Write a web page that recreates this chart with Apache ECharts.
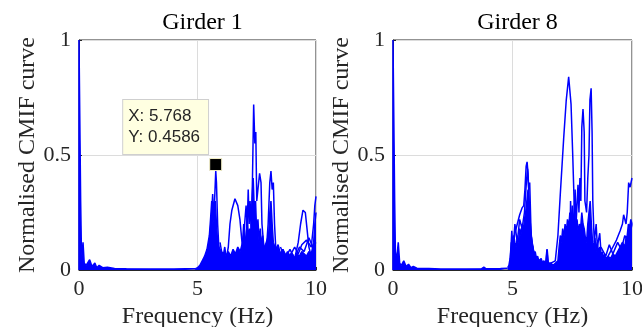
<!DOCTYPE html>
<html>
<head>
<meta charset="utf-8">
<script src="https://cdn.jsdelivr.net/npm/echarts@6/dist/echarts.min.js"></script>
<style>
  html, body { margin: 0; padding: 0; background: #fff; }
  #chart { width: 642px; height: 327px; }
</style>
</head>
<body>
<div id="chart"></div>
<script>
// tick labels
const xTicks = [0, 5, 10]
const yTicks = [0, 0.5, 1]
const titles = ['Girder 1', 'Girder 8']

// ---- Girder 1 ----
const g1Low = [[0, 0], [0, 1], [0.05, 1], [0.07, 0.3], [0.1, 0.1], [0.13, 0.06], [0.17, 0.12], [0.22, 0.03], [0.3, 0.02], [0.45, 0.045], [0.55, 0.015], [0.67, 0.03], [0.75, 0.01], [0.85, 0.02], [1.0, 0.01], [1.2, 0.012], [1.5, 0.007], [2, 0.005], [3, 0.004], [4, 0.004], [4.5, 0.005], [4.9, 0.005]]
const g1Dense = [[4.9, 0.005], [5.0, 0.01], [5.1, 0.02], [5.2, 0.04], [5.3, 0.06], [5.4, 0.09], [5.5, 0.15], [5.55, 0.22], [5.6, 0.3], [5.65, 0.2], [5.7, 0.26], [5.75, 0.3], [5.8, 0.2], [5.85, 0.12], [5.9, 0.1], [6.0, 0.08], [6.1, 0.07], [6.15, 0.1], [6.2, 0.06], [6.3, 0.08], [6.4, 0.06], [6.5, 0.09], [6.6, 0.07], [6.7, 0.1], [6.8, 0.08], [6.9, 0.12], [6.95, 0.2], [7.0, 0.1], [7.05, 0.15], [7.1, 0.25], [7.15, 0.12], [7.2, 0.18], [7.25, 0.13], [7.3, 0.3], [7.35, 0.4], [7.4, 0.25], [7.45, 0.3], [7.5, 0.15], [7.55, 0.22], [7.6, 0.12], [7.65, 0.18], [7.7, 0.1], [7.75, 0.15], [7.8, 0.09], [7.9, 0.12], [8.0, 0.15], [8.05, 0.25], [8.1, 0.3], [8.15, 0.2], [8.2, 0.12], [8.3, 0.09], [8.4, 0.11], [8.5, 0.07], [8.6, 0.09], [8.7, 0.06], [8.8, 0.08], [8.9, 0.06], [9.0, 0.07], [9.1, 0.05], [9.2, 0.07], [9.3, 0.06], [9.4, 0.08], [9.5, 0.07], [9.6, 0.06], [9.7, 0.08], [9.8, 0.07], [9.9, 0.12], [9.95, 0.2], [10, 0.25]]
const g1PeakA = [[5.4, 0.05], [5.5, 0.12], [5.6, 0.25], [5.64, 0.33], [5.68, 0.22], [5.72, 0.3], [5.77, 0.43], [5.8, 0.38], [5.85, 0.2], [5.9, 0.1], [6.0, 0.04], [6.1, 0.02]]
const g1Hump = [[6.0, 0.02], [6.2, 0.04], [6.3, 0.1], [6.37, 0.2], [6.45, 0.26], [6.58, 0.31], [6.7, 0.28], [6.79, 0.22], [6.86, 0.14], [6.93, 0.07], [7.0, 0.03], [7.1, 0.02]]
const g1U = [[5.95, 0.12], [6.05, 0.06], [6.15, 0.02], [6.3, 0.01], [6.45, 0.03], [6.6, 0.03], [6.75, 0.02], [6.85, 0.05], [6.95, 0.15], [7.05, 0.28], [7.1, 0.2]]
const g1Main = [[7.0, 0.1], [7.1, 0.2], [7.14, 0.35], [7.18, 0.2], [7.22, 0.3], [7.27, 0.15], [7.32, 0.4], [7.37, 0.72], [7.42, 0.55], [7.46, 0.6], [7.5, 0.3], [7.55, 0.35], [7.62, 0.42], [7.68, 0.38], [7.72, 0.2], [7.8, 0.1], [7.9, 0.06]]
const g1P8 = [[7.9, 0.08], [7.98, 0.2], [8.05, 0.38], [8.1, 0.43], [8.15, 0.35], [8.2, 0.38], [8.25, 0.2], [8.3, 0.1], [8.4, 0.06]]
const g1Wavy = [[8.4, 0.05], [8.6, 0.09], [8.8, 0.05], [9.0, 0.08], [9.1, 0.1], [9.25, 0.07], [9.4, 0.11], [9.6, 0.13], [9.8, 0.1], [10, 0.12]]
const g1Wavy2 = [[8.5, 0.1], [8.7, 0.05], [8.9, 0.09], [9.1, 0.05], [9.3, 0.1], [9.5, 0.08], [9.7, 0.14], [9.9, 0.09]]
const g1Hump9 = [[9.1, 0.05], [9.25, 0.12], [9.35, 0.2], [9.45, 0.26], [9.55, 0.25], [9.62, 0.18], [9.7, 0.1], [9.8, 0.06]]
const g1Edge = [[9.8, 0.1], [9.9, 0.2], [9.95, 0.28], [10, 0.32]]
const g1Tip = [5.768, 0.4586]

// ---- Girder 8 ----
const g8Low = [[0, 0], [0, 1], [0.04, 1], [0.07, 0.3], [0.1, 0.08], [0.15, 0.04], [0.22, 0.12], [0.28, 0.03], [0.35, 0.02], [0.45, 0.04], [0.55, 0.015], [0.65, 0.025], [0.75, 0.01], [0.85, 0.015], [1.0, 0.008], [1.5, 0.006], [2, 0.004], [3, 0.004], [3.7, 0.005], [3.8, 0.012], [3.9, 0.005], [4.5, 0.006], [4.8, 0.008]]
const g8Dense = [[4.8, 0.01], [4.85, 0.02], [4.9, 0.05], [4.95, 0.12], [5.0, 0.1], [5.05, 0.15], [5.1, 0.12], [5.15, 0.1], [5.2, 0.14], [5.25, 0.12], [5.3, 0.18], [5.35, 0.15], [5.4, 0.2], [5.45, 0.17], [5.5, 0.22], [5.55, 0.25], [5.6, 0.3], [5.65, 0.35], [5.7, 0.25], [5.75, 0.2], [5.8, 0.12], [5.85, 0.1], [5.9, 0.07], [5.95, 0.08], [6.0, 0.05], [6.05, 0.06], [6.1, 0.04], [6.2, 0.05], [6.25, 0.03], [6.3, 0.04], [6.4, 0.03], [6.45, 0.09], [6.5, 0.03], [6.6, 0.03], [6.7, 0.02], [6.8, 0.03], [6.9, 0.04], [6.95, 0.1], [7.0, 0.15], [7.05, 0.12], [7.1, 0.18], [7.15, 0.14], [7.2, 0.2], [7.25, 0.16], [7.3, 0.22], [7.35, 0.18], [7.4, 0.25], [7.45, 0.2], [7.5, 0.28], [7.55, 0.2], [7.6, 0.25], [7.65, 0.18], [7.7, 0.22], [7.75, 0.16], [7.8, 0.2], [7.85, 0.18], [7.9, 0.25], [7.95, 0.2], [8.0, 0.18], [8.05, 0.14], [8.1, 0.12], [8.15, 0.2], [8.2, 0.25], [8.25, 0.3], [8.3, 0.2], [8.35, 0.12], [8.4, 0.1], [8.45, 0.14], [8.5, 0.08], [8.55, 0.12], [8.6, 0.07], [8.65, 0.1], [8.7, 0.06], [8.75, 0.08], [8.8, 0.05], [8.85, 0.07], [8.9, 0.05], [9.0, 0.06], [9.1, 0.05], [9.2, 0.07], [9.3, 0.06], [9.4, 0.08], [9.5, 0.1], [9.6, 0.12], [9.7, 0.1], [9.75, 0.14], [9.8, 0.15], [9.85, 0.2], [9.9, 0.18], [9.95, 0.22], [10, 0.2]]
const g8P5 = [[4.9, 0.02], [4.97, 0.17], [5.02, 0.1], [5.1, 0.16], [5.2, 0.2], [5.3, 0.24], [5.4, 0.27], [5.47, 0.28], [5.52, 0.35], [5.57, 0.45], [5.61, 0.47], [5.65, 0.42], [5.7, 0.3], [5.75, 0.18], [5.85, 0.1], [5.95, 0.05], [6.05, 0.03]]
const g8P5b = [[5.0, 0.05], [5.1, 0.2], [5.2, 0.12], [5.3, 0.22], [5.4, 0.18], [5.5, 0.25], [5.58, 0.38], [5.63, 0.44], [5.68, 0.35], [5.72, 0.38], [5.78, 0.15], [5.9, 0.06]]
const g8Small = [[6.3, 0.03], [6.4, 0.04], [6.44, 0.09], [6.48, 0.03], [6.6, 0.02]]
const g8Big = [[6.6, 0.03], [6.79, 0.04], [6.9, 0.15], [7.0, 0.33], [7.14, 0.57], [7.25, 0.74], [7.35, 0.84], [7.45, 0.72], [7.52, 0.5], [7.6, 0.22], [7.7, 0.1]]
const g8Spk = [[7.4, 0.1], [7.43, 0.3], [7.47, 0.15], [7.55, 0.2], [7.62, 0.35], [7.66, 0.2], [7.74, 0.37], [7.78, 0.25], [7.82, 0.4], [7.86, 0.3], [7.9, 0.62], [7.95, 0.7], [8.0, 0.6], [8.03, 0.3], [8.1, 0.25], [8.15, 0.4], [8.2, 0.5], [8.24, 0.74], [8.29, 0.79], [8.33, 0.6], [8.36, 0.3], [8.42, 0.12], [8.5, 0.2], [8.55, 0.1], [8.65, 0.16], [8.7, 0.08]]
const g8Right = [[9.0, 0.06], [9.2, 0.1], [9.35, 0.13], [9.5, 0.17], [9.6, 0.2], [9.65, 0.24], [9.75, 0.2], [9.8, 0.25], [9.86, 0.38], [9.92, 0.36], [10, 0.4]]
const g8Wavy = [[8.7, 0.1], [8.9, 0.06], [9.05, 0.11], [9.2, 0.07], [9.4, 0.12], [9.55, 0.09], [9.7, 0.15], [9.85, 0.12], [10, 0.2]]

const BLUE = '#0000ff'
const INK = '#262626'
const SERIF = 'Liberation Serif'

function curve(data, idx, fill) {
  const s = {
    type: 'line',
    xAxisIndex: idx,
    yAxisIndex: idx,
    data: data,
    showSymbol: false,
    symbol: 'none',
    silent: true,
    lineStyle: { color: BLUE, width: 1.5 },
    z: 3
  }
  if (fill) {
    s.areaStyle = { color: BLUE, opacity: 1 }
  }
  return s
}

const grids = [
  { left: 79, top: 40, width: 237, height: 230 },
  { left: 393, top: 40, width: 239, height: 230 }
]

const xAxes = grids.map(function(g, i) {
  return {
    type: 'value',
    gridIndex: i,
    min: 0,
    max: 10,
    interval: 5,
    name: 'Frequency (Hz)',
    nameLocation: 'middle',
    nameGap: 31,
    nameTextStyle: { fontFamily: SERIF, fontSize: 24, color: INK },
    axisLine: { show: true, lineStyle: { color: INK } },
    axisTick: { show: true, inside: true, length: 3, lineStyle: { color: INK } },
    axisLabel: {
      fontFamily: SERIF, fontSize: 22, color: INK, margin: 8,
      formatter: function(v) { return xTicks.indexOf(v) >= 0 ? String(v) : '' }
    },
    splitLine: { show: true, lineStyle: { color: '#dcdcdc' } }
  }
})

const yAxes = grids.map(function(g, i) {
  return {
    type: 'value',
    gridIndex: i,
    min: 0,
    max: 1,
    interval: 0.5,
    name: 'Normalised CMIF curve',
    nameLocation: 'middle',
    nameGap: 38,
    nameTextStyle: { fontFamily: SERIF, fontSize: 24, color: INK },
    axisLine: { show: true, lineStyle: { color: INK } },
    axisTick: { show: true, inside: true, length: 3, lineStyle: { color: INK } },
    axisLabel: {
      fontFamily: SERIF, fontSize: 22, color: INK, margin: 8,
      formatter: function(v) { return yTicks.indexOf(v) >= 0 ? String(v) : '' }
    },
    splitLine: { show: true, lineStyle: { color: '#dcdcdc' } }
  }
})

const tipSeries = curve([g1Tip], 0, false)
tipSeries.lineStyle = { opacity: 0 }
tipSeries.z = 10
tipSeries.markPoint = {
  symbol: 'rect',
  symbolSize: 12,
  silent: true,
  itemStyle: { color: '#000', borderColor: '#f3efc8', borderWidth: 1 },
  label: {
    show: true,
    position: [-86, -58],
    formatter: 'X: ' + g1Tip[0] + '\nY: ' + g1Tip[1],
    fontFamily: 'Liberation Sans',
    fontSize: 17,
    lineHeight: 21,
    color: '#262626',
    backgroundColor: '#ffffe1',
    borderColor: '#cfcfcf',
    borderWidth: 1,
    padding: [6, 8, 6, 5]
  },
  data: [{ coord: g1Tip }]
}

const option = {
  animation: false,
  backgroundColor: '#fff',
  title: titles.map(function(t, i) {
    return {
      text: t,
      left: grids[i].left + grids[i].width / 2,
      textAlign: 'center',
      top: 6,
      textStyle: { fontFamily: SERIF, fontSize: 24, fontWeight: 'normal', color: '#000' }
    }
  }),
  grid: grids.map(function(g) {
    return Object.assign({ show: true, borderColor: INK, borderWidth: 1, backgroundColor: '#fff', outerBoundsMode: 'none', containLabel: false }, g)
  }),
  xAxis: xAxes,
  yAxis: yAxes,
  series: [
    curve(g1Low, 0, true),
    curve(g1Dense, 0, true),
    curve(g1PeakA, 0),
    curve(g1Hump, 0),
    curve(g1U, 0),
    curve(g1Main, 0),
    curve(g1P8, 0),
    curve(g1Wavy, 0),
    curve(g1Wavy2, 0),
    curve(g1Hump9, 0),
    curve(g1Edge, 0),
    tipSeries,
    curve(g8Low, 1, true),
    curve(g8Dense, 1, true),
    curve(g8P5, 1),
    curve(g8P5b, 1),
    curve(g8Small, 1),
    curve(g8Big, 1),
    curve(g8Spk, 1),
    curve(g8Right, 1),
    curve(g8Wavy, 1)
  ]
}

const chart = echarts.init(document.getElementById('chart'), null, { renderer: 'canvas' })
chart.setOption(option)
</script>
</body>
</html>
